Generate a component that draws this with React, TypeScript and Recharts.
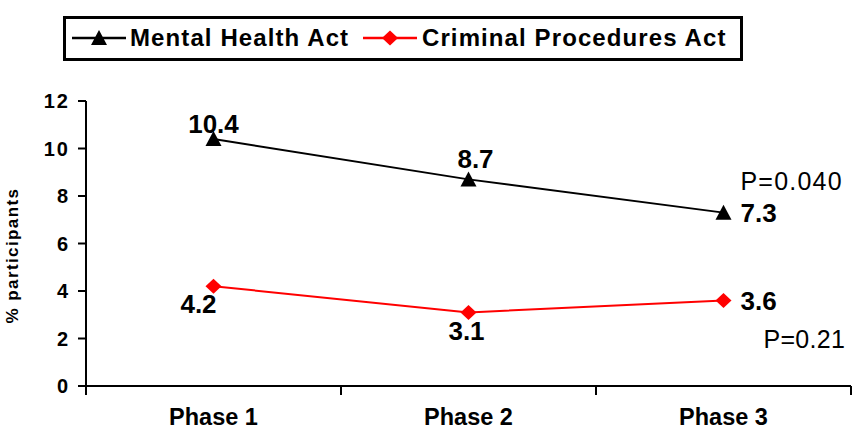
import { CartesianGrid, LabelList, Line, LineChart, XAxis, YAxis } from "recharts";

const phases = ["Phase 1", "Phase 2", "Phase 3"];
const mentalHealth = [10.4, 8.7, 7.3];
const criminalProcedures = [4.2, 3.1, 3.6];
const yTicks = [0, 2, 4, 6, 8, 10, 12];
const pValues = ["P=0.040", "P=0.21"];

const data = phases.map((phase, i) => ({
  phase,
  mental: mentalHealth[i],
  criminal: criminalProcedures[i],
}));

const W = 852;
const H = 429;
const M = { top: 101, right: 1, left: 0, bottom: 0 };
const Y_W = 86;
const FONT = "Arial, 'Liberation Sans', Helvetica, sans-serif";

function Triangle({ cx, cy, fill = "#000" }: any) {
  if (cx == null || cy == null) return null;
  return <path d={`M${cx},${cy - 8} L${cx + 8},${cy + 7} L${cx - 8},${cy + 7} Z`} fill={fill} />;
}

function Diamond({ cx, cy, fill = "#ff0000" }: any) {
  if (cx == null || cy == null) return null;
  return <path d={`M${cx},${cy - 7.5} L${cx + 8},${cy} L${cx},${cy + 7.5} L${cx - 8},${cy} Z`} fill={fill} />;
}

// label offsets per point: [dx, dy, anchor]
const mentalPlace: [number, number, string][] = [
  [0, -6, "middle"],
  [7, -11, "middle"],
  [17, 9, "start"],
];
const criminalPlace: [number, number, string][] = [
  [-15, 27, "middle"],
  [-2, 28, "middle"],
  [17, 9, "start"],
];

const labelStyle = { fontFamily: FONT, fontWeight: 700, fontSize: 26, fill: "#000" };
const pStyle = { fontFamily: FONT, fontWeight: 400, fontSize: 25, fill: "#000" };

function makeLabel(place: [number, number, string][], pText: string, pdx: number, pdy: number, pSpacing: number) {
  return (props: any) => {
    const { x, y, value, index } = props;
    const [dx, dy, anchor] = place[index];
    return (
      <g>
        <text x={x + dx} y={y + dy} textAnchor={anchor as any} style={labelStyle}>
          {value}
        </text>
        {index === place.length - 1 && (
          <text x={x + pdx} y={y + pdy} style={{ ...pStyle, letterSpacing: pSpacing }}>
            {pText}
          </text>
        )}
      </g>
    );
  };
}

function PhaseTick({ x, y, payload, index }: any) {
  const band = (W - M.left - M.right - Y_W) / phases.length;
  return (
    <g>
      {index === 0 && <line x1={x - band / 2} y1={y} x2={x - band / 2} y2={y + 9} stroke="#000" strokeWidth={2} />}
      <line x1={x + band / 2} y1={y} x2={x + band / 2} y2={y + 9} stroke="#000" strokeWidth={2} />
      <text
        x={x}
        y={y + 39}
        textAnchor="middle"
        style={{ fontFamily: FONT, fontWeight: 700, fontSize: 23.5, fill: "#000" }}
      >
        {payload.value}
      </text>
    </g>
  );
}

function ValueTick({ x, y, payload }: any) {
  return (
    <text
      x={x + 2}
      y={y + 7}
      textAnchor="end"
      style={{ fontFamily: FONT, fontWeight: 700, fontSize: 20, letterSpacing: 2, fill: "#000" }}
    >
      {payload.value}
    </text>
  );
}

const series = [
  { name: "Mental Health Act", color: "#000000", Icon: Triangle },
  { name: "Criminal Procedures Act", color: "#ff0000", Icon: Diamond },
];

function LegendBox() {
  const items = [
    { lineX: 9, textX: 67 },
    { lineX: 300, textX: 359 },
  ];
  return (
    <div
      style={{
        position: "absolute",
        left: 63,
        top: 16,
        width: 674,
        height: 39,
        border: "3px solid #000",
        background: "#fff",
        fontFamily: FONT,
      }}
    >
      {series.map((s, i) => (
        <div key={s.name}>
          <svg
            width={56}
            height={20}
            style={{ position: "absolute", left: items[i].lineX - 3, top: 9 }}
          >
            <line x1={0} y1={10} x2={54} y2={10} stroke={s.color} strokeWidth={2.5} />
            <s.Icon cx={27} cy={10} fill={s.color} />
          </svg>
          <span
            style={{
              position: "absolute",
              left: items[i].textX - 3,
              top: 4,
              fontSize: 24,
              fontWeight: 700,
              letterSpacing: 1.1,
              lineHeight: "30px",
              whiteSpace: "nowrap",
            }}
          >
            {s.name}
          </span>
        </div>
      ))}
    </div>
  );
}

export default function App() {
  return (
    <div style={{ position: "absolute", left: 0, top: 0, width: W, height: H, background: "#fff" }}>
      <LineChart width={W} height={H} data={data} margin={M}>
        <CartesianGrid stroke="none" />
        <XAxis
          dataKey="phase"
          scale="band"
          height={43}
          axisLine={{ stroke: "#000", strokeWidth: 2 }}
          tickLine={false}
          tickSize={0}
          tickMargin={0}
          interval={0}
          tick={<PhaseTick />}
        />
        <YAxis
          width={Y_W}
          domain={[0, 12]}
          ticks={yTicks}
          interval={0}
          axisLine={{ stroke: "#000", strokeWidth: 2 }}
          tickLine={{ stroke: "#000", strokeWidth: 2 }}
          tickSize={8}
          tickMargin={10}
          tick={<ValueTick />}
          label={{
            value: "% participants",
            angle: -90,
            position: "insideLeft",
            offset: 0,
            dx: 12,
            dy: 12,
            style: { fontFamily: FONT, fontWeight: 700, fontSize: 17, letterSpacing: 1.4, fill: "#000", textAnchor: "middle" },
          }}
        />
        <Line
          dataKey="mental"
          name={series[0].name}
          stroke="#000"
          strokeWidth={2}
          dot={<Triangle fill="#000" />}
          activeDot={false}
          isAnimationActive={false}
        >
          <LabelList dataKey="mental" content={makeLabel(mentalPlace, pValues[0], 17, -23, 1.2)} />
        </Line>
        <Line
          dataKey="criminal"
          name={series[1].name}
          stroke="#ff0000"
          strokeWidth={2}
          dot={<Diamond fill="#ff0000" />}
          activeDot={false}
          isAnimationActive={false}
        >
          <LabelList dataKey="criminal" content={makeLabel(criminalPlace, pValues[1], 40, 47, 0.3)} />
        </Line>
      </LineChart>
      <LegendBox />
    </div>
  );
}
